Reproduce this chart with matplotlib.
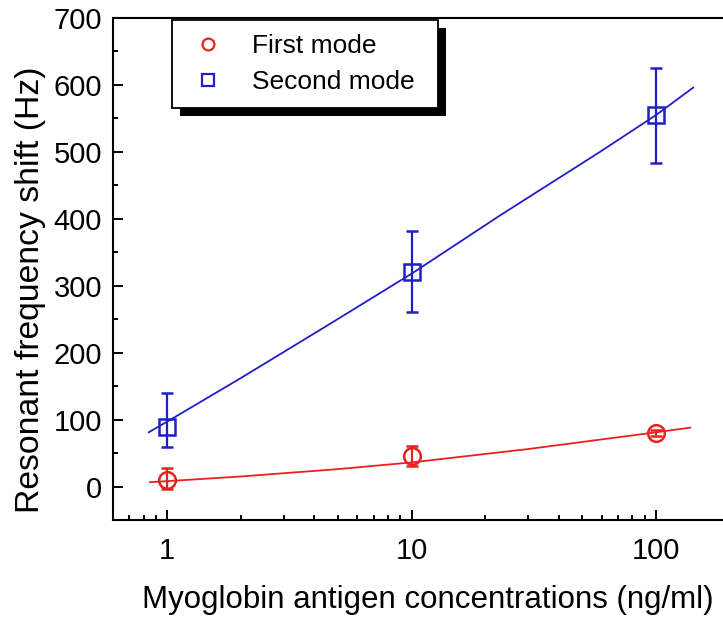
import matplotlib
matplotlib.use("Agg")
import matplotlib.pyplot as plt
from matplotlib.lines import Line2D
from matplotlib.patches import Rectangle
from matplotlib.ticker import FixedLocator, NullFormatter, MultipleLocator

plt.rcParams["font.family"] = ["Liberation Sans", "DejaVu Sans"]

# measured points
conc = [1, 10, 100]
first_mode = [9, 45, 80]
first_err_lo = [12, 15, 5]
first_err_hi = [19, 15, 5]
second_mode = [89, 320, 555]
second_err_lo = [30, 60, 72]
second_err_hi = [50, 62, 70]

# fitted curves
fit1_x = [0.85, 1, 2, 5, 10, 30, 100, 138]
fit1_y = [6.5, 8, 15, 26, 36, 56, 81, 88]
fit2_x = [0.84, 1, 2, 4.4, 10, 23, 59, 100, 142]
fit2_y = [81, 97, 162, 238, 318, 405, 500, 555, 596]

red = "#e8221f"
blue = "#1f1fc8"

fig = plt.figure(figsize=(7.23, 6.18), dpi=100)
ax = fig.add_axes([113 / 723, 0.1586, (729.6 - 113) / 723, 0.9709 - 0.1586])

ax.plot(fit1_x, fit1_y, color=red, lw=1.3)
ax.plot(fit2_x, fit2_y, color=blue, lw=1.3)

ax.errorbar(conc, first_mode, yerr=[first_err_lo, first_err_hi], fmt="o",
            ms=12, mfc="none", mec=red, mew=1.8, ecolor=red, elinewidth=1.6,
            capsize=4, capthick=1.6)
ax.errorbar(conc, second_mode, yerr=[second_err_lo, second_err_hi], fmt="s",
            ms=11.5, mfc="none", mec=blue, mew=1.8, ecolor=blue,
            elinewidth=1.6, capsize=4, capthick=1.6)

ax.set_xscale("log")
ax.set_xlim(0.6, 200)
ax.set_ylim(-50, 700)

ax.xaxis.set_major_locator(FixedLocator([1, 10, 100]))
ax.set_xticklabels(["1", "10", "100"])
ax.xaxis.set_minor_locator(FixedLocator(
    [k * 10 ** e for e in (-1, 0, 1, 2) for k in range(2, 10)]))
ax.xaxis.set_minor_formatter(NullFormatter())
ax.yaxis.set_major_locator(MultipleLocator(100))
ax.yaxis.set_minor_locator(MultipleLocator(50))

ax.tick_params(which="both", direction="in", labelsize=21, width=1.4)
ax.tick_params(which="major", length=7)
ax.tick_params(which="minor", length=3.5)
ax.tick_params(axis="x", pad=12)
ax.tick_params(axis="y", pad=8)
for s in ax.spines.values():
    s.set_linewidth(1.5)

ax.set_xlabel("Myoglobin antigen concentrations (ng/ml)", fontsize=22.5,
              labelpad=15, x=0.51)
ax.set_ylabel("Resonant frequency shift (Hz)", fontsize=24.3, labelpad=5,
              y=0.458)

handles = [
    Line2D([], [], ls="none", marker="o", ms=8.5, mfc="none", mec=red, mew=1.6),
    Line2D([], [], ls="none", marker="s", ms=8, mfc="none", mec=blue, mew=1.6),
]
leg = ax.legend(handles, ["First mode", "Second mode"], loc="upper left",
                bbox_to_anchor=(172 / 723, 1 - 20 / 618, 266 / 723, 0),
                bbox_transform=fig.transFigure, borderaxespad=0, mode="expand",
                fontsize=19, fancybox=False, framealpha=1, edgecolor="black",
                handlelength=1.7, handletextpad=0.8, borderpad=0.53,
                labelspacing=0.46)
leg.get_frame().set_linewidth(1.3)

# black offset shadow behind legend box
fig.canvas.draw()
bb = leg.get_window_extent()
shadow = Rectangle((bb.x0 + 8, bb.y0 - 8), bb.width, bb.height,
                   transform=None, facecolor="black", edgecolor="none",
                   zorder=4.9, clip_on=False)
ax.add_artist(shadow)

fig.savefig("out.png", dpi=100)
